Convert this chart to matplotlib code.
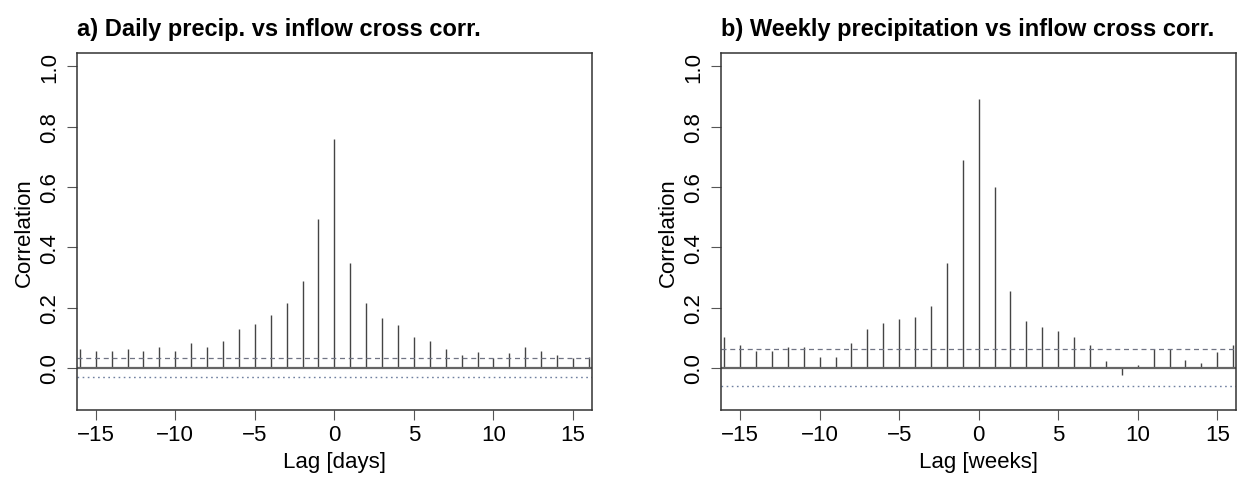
import numpy as np
import matplotlib.pyplot as plt

plt.rcParams['font.family'] = ['Liberation Sans', 'DejaVu Sans']

lags = np.arange(-16, 17)

# daily precip vs inflow cross correlation
daily_corr = [0.063, 0.056, 0.056, 0.063, 0.057, 0.069, 0.057, 0.082, 0.069, 0.089,
              0.129, 0.147, 0.176, 0.216, 0.290, 0.494, 0.760, 0.347, 0.216, 0.167,
              0.144, 0.103, 0.090, 0.063, 0.043, 0.052, 0.033, 0.049, 0.069, 0.055,
              0.043, 0.033, 0.038]
daily_ci = (0.033, -0.029)

# weekly precip vs inflow cross correlation
weekly_corr = [0.102, 0.076, 0.057, 0.057, 0.070, 0.070, 0.035, 0.035, 0.083, 0.128,
               0.149, 0.162, 0.168, 0.207, 0.347, 0.688, 0.892, 0.599, 0.255, 0.156,
               0.136, 0.123, 0.102, 0.076, 0.024, -0.022, 0.010, 0.063, 0.063, 0.027,
               0.016, 0.052, 0.076]
weekly_ci = (0.063, -0.061)

titles = ['a) Daily precip. vs inflow cross corr.',
          'b) Weekly precipitation vs inflow cross corr.']
xlabels = ['Lag [days]', 'Lag [weeks]']
yticks = [0.0, 0.2, 0.4, 0.6, 0.8, 1.0]
xticks = [-15, -10, -5, 0, 5, 10, 15]

fig = plt.figure(figsize=(12.53, 4.81), dpi=100)
ax1 = fig.add_axes([0.0612, 0.1449, 0.4113, 0.7422])
ax2 = fig.add_axes([0.5754, 0.1449, 0.4113, 0.7422])

for ax, corr, ci, title, xl in zip([ax1, ax2], [daily_corr, weekly_corr],
                                   [daily_ci, weekly_ci], titles, xlabels):
    ax.vlines(lags, 0, corr, color='#444444', lw=1.0)
    ax.axhline(0, color='#666666', lw=1.6)
    ax.axhline(ci[0], color='#707484', lw=0.9, ls=(0, (4, 3)))
    ax.axhline(ci[1], color='#7080a0', lw=1.0, ls=(0, (1.2, 2.5)))

    ax.set_xlim(-16.2, 16.2)
    ax.set_ylim(-0.14, 1.043)
    ax.set_xticks(xticks)
    ax.set_xticklabels([str(t).replace('-', '\u2212') for t in xticks])
    ax.set_yticks(yticks)
    ax.set_yticklabels(['%.1f' % t for t in yticks], rotation=90, va='center')
    ax.tick_params(axis='both', labelsize=16, length=7, width=0.8, color='#555555')
    ax.tick_params(axis='x', pad=3)
    ax.tick_params(axis='y', pad=5)
    for s in ax.spines.values():
        s.set_color('#333333')
        s.set_linewidth(1.1)

    ax.set_xlabel(xl, fontsize=16, labelpad=4)
    ax.set_ylabel('Correlation', fontsize=16, labelpad=3)
    ax.set_title(title, loc='left', fontsize=17, fontweight='bold', pad=13)

fig.savefig('out.png', dpi=100)
